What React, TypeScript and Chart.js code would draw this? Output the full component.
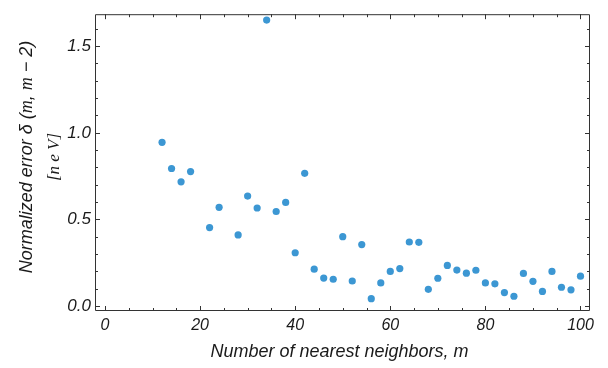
import React, { useEffect, useRef } from "react";
import { Chart, registerables } from "chart.js";

Chart.register(...registerables);

const neighborCounts = [
  12, 14, 16, 18, 22, 24, 28, 30, 32, 34, 36, 38, 40, 42, 44, 46, 48, 50, 52, 54, 56, 58,
  60, 62, 64, 66, 68, 70, 72, 74, 76, 78, 80, 82, 84, 86, 88, 90, 92, 94, 96, 98, 100,
];
const normalizedErrors = [
  0.945, 0.794, 0.717, 0.776, 0.453, 0.57, 0.411, 0.635, 0.566, 1.65, 0.546, 0.598, 0.308,
  0.766, 0.213, 0.162, 0.155, 0.401, 0.145, 0.355, 0.043, 0.134, 0.2, 0.217, 0.37, 0.368,
  0.097, 0.161, 0.235, 0.208, 0.19, 0.207, 0.134, 0.129, 0.078, 0.057, 0.189, 0.143, 0.085,
  0.2, 0.109, 0.094, 0.173,
];
const xTickValues = [0, 20, 40, 60, 80, 100];
const yTickValues = [0, 0.5, 1.0, 1.5];
const xMinorStep = 5;
const yMinorStep = 0.1;
const xRange = [-2.1, 102];
const yRange = [-0.028, 1.684];

const xTitle = "Number of nearest neighbors, m";
const yTitleLine1 = [
  { t: "Normalized error δ ", serif: false },
  { t: "(", serif: false },
  { t: "m", serif: true },
  { t: ", ", serif: false },
  { t: "m", serif: true },
  { t: " − 2)", serif: false },
];
const yTitleLine2 = "[n e V]";

const SANS = "'Liberation Sans', Arial, sans-serif";
const SERIF = "'Liberation Serif', 'Times New Roman', serif";

const framePlugin = {
  id: "mmaFrame",
  afterDatasetsDraw(chart: any) {
    const { ctx, chartArea, scales } = chart;
    const { left, right, top, bottom } = chartArea;
    const xs = scales.x;
    const ys = scales.y;
    ctx.save();
    ctx.strokeStyle = "#333";
    ctx.lineWidth = 1;
    ctx.beginPath();
    ctx.rect(left + 0.5, top + 0.5, right - left - 1, bottom - top - 1);
    ctx.stroke();
    ctx.beginPath();
    for (let v = 0; v <= 100 + 1e-9; v += xMinorStep) {
      const px = Math.round(xs.getPixelForValue(v)) + 0.5;
      const major = xTickValues.some((t) => Math.abs(t - v) < 1e-6);
      const len = major ? 5 : 3;
      ctx.moveTo(px, bottom);
      ctx.lineTo(px, bottom - len);
      ctx.moveTo(px, top);
      ctx.lineTo(px, top + len);
    }
    for (let v = 0; v <= 1.65 + 1e-9; v += yMinorStep) {
      const py = Math.round(ys.getPixelForValue(v)) + 0.5;
      const major = yTickValues.some((t) => Math.abs(t - v) < 1e-6);
      const len = major ? 5 : 3;
      ctx.moveTo(left, py);
      ctx.lineTo(left + len, py);
      ctx.moveTo(right, py);
      ctx.lineTo(right - len, py);
    }
    ctx.stroke();
    ctx.restore();
  },
  afterDraw(chart: any) {
    const { ctx, chartArea } = chart;
    ctx.save();
    ctx.fillStyle = "#1a1a1a";
    ctx.font = `italic 18px ${SANS}`;
    ctx.textAlign = "center";
    ctx.textBaseline = "middle";
    ctx.fillText(xTitle, (chartArea.left + chartArea.right) / 2 - 3, 352);
    const cy = 157;
    ctx.translate(27, cy);
    ctx.rotate(-Math.PI / 2);
    ctx.textAlign = "left";
    ctx.textBaseline = "middle";
    const fontFor = (serif: boolean) => (serif ? `italic 18px ${SERIF}` : `italic 18px ${SANS}`);
    let total = 0;
    for (const seg of yTitleLine1) {
      ctx.font = fontFor(seg.serif);
      total += ctx.measureText(seg.t).width;
    }
    let x = -total / 2;
    for (const seg of yTitleLine1) {
      ctx.font = fontFor(seg.serif);
      ctx.fillText(seg.t, x, 0);
      x += ctx.measureText(seg.t).width;
    }
    ctx.restore();
    ctx.save();
    ctx.fillStyle = "#1a1a1a";
    ctx.translate(55, cy);
    ctx.rotate(-Math.PI / 2);
    ctx.font = `italic 17px ${SERIF}`;
    ctx.textAlign = "center";
    ctx.textBaseline = "middle";
    ctx.fillText(yTitleLine2, 0, 0);
    ctx.restore();
  },
};

export default function App() {
  const canvasRef = useRef<HTMLCanvasElement | null>(null);

  useEffect(() => {
    const canvas = canvasRef.current;
    if (!canvas) return;
    const chart = new Chart(canvas, {
      type: "scatter",
      data: {
        datasets: [
          {
            data: neighborCounts.map((m, i) => ({ x: m, y: normalizedErrors[i] })),
            backgroundColor: "#3c97d3",
            borderWidth: 0,
            pointRadius: 3.6,
          },
        ],
      },
      options: {
        responsive: false,
        animation: false,
        devicePixelRatio: 1,
        layout: { padding: { left: 0, top: 5, right: 18, bottom: 0 } },
        plugins: { legend: { display: false }, tooltip: { enabled: false } },
        scales: {
          x: {
            type: "linear",
            position: "bottom",
            min: xRange[0],
            max: xRange[1],
            grid: { display: false, drawTicks: false },
            border: { display: false },
            afterBuildTicks: (s: any) => {
              s.ticks = xTickValues.map((v) => ({ value: v }));
            },
            afterFit: (s: any) => {
              s.height = 57;
            },
            ticks: {
              autoSkip: false,
              maxRotation: 0,
              padding: 5,
              color: "#1a1a1a",
              font: { family: SANS, size: 16, style: "italic" },
              callback: (v: any) => String(v),
            },
          },
          y: {
            type: "linear",
            min: yRange[0],
            max: yRange[1],
            grid: { display: false, drawTicks: false },
            border: { display: false },
            afterBuildTicks: (s: any) => {
              s.ticks = yTickValues.map((v) => ({ value: v }));
            },
            afterFit: (s: any) => {
              s.width = 95;
            },
            ticks: {
              autoSkip: false,
              padding: 4,
              color: "#1a1a1a",
              font: { family: SANS, size: 17, style: "italic" },
              callback: (v: any) => Number(v).toFixed(1),
            },
          },
        },
      },
      plugins: [framePlugin],
    } as any);
    return () => chart.destroy();
  }, []);

  return (
    <div style={{ position: "fixed", left: 0, top: 0, width: 608, height: 368, background: "#fff" }}>
      <canvas ref={canvasRef} width={608} height={368} style={{ width: 608, height: 368 }} />
    </div>
  );
}
